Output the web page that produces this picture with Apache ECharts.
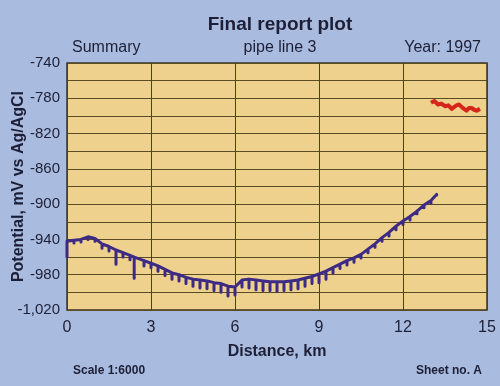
<!DOCTYPE html>
<html><head><meta charset="utf-8">
<script src="https://cdn.jsdelivr.net/npm/echarts@6/dist/echarts.min.js"></script>
<style>html,body{margin:0;padding:0;background:#a9bbdf;}#c{width:500px;height:386px;}</style>
</head><body><div id="c"></div>
<script>
// Distance (km) of survey points on pipe line 3
var distances = [0,0.25,0.5,0.75,1.0,1.25,1.5,1.75,2.0,2.25,2.4,2.75,3.0,3.25,3.5,3.75,4.0,4.25,4.5,4.75,5.0,5.25,5.5,5.75,6.0,6.25,6.5,6.75,7.0,7.25,7.5,7.75,8.0,8.25,8.5,8.75,9.0,9.25,9.5,9.75,10.0,10.25,10.5,10.75,11.0,11.25,11.5,11.75,12.0,12.25,12.5,12.75,13.0,13.2];
// "On" potential (mV) along the line
var potentials = [-942,-941,-940,-937,-939,-945,-948,-952,-955,-958,-960,-964,-967,-970,-974,-978,-980,-983,-985,-986,-987,-989,-990,-993,-994,-986,-985,-986,-987,-988,-988,-988,-987,-986,-984,-982,-979,-976,-972,-968,-964,-961,-957,-951,-945,-938,-932,-925,-919,-914,-908,-901,-896,-889];
// Lowest value of the downward spike at each point (mV)
var spikeLows = [-960,-944,-943,-940,-942,-950,-953,-968,-960,-963,-984,-970,-972,-976,-981,-985,-987,-990,-993,-995,-996,-998,-1000,-1004,-1003,-994,-995,-997,-998,-998,-999,-998,-997,-996,-993,-990,-989,-985,-978,-973,-969,-966,-961,-955,-949,-942,-936,-929,-923,-918,-911,-904,-899,-891];
// Second survey (red)
var redDistances = [13.0,13.12,13.25,13.37,13.5,13.62,13.74,13.82,13.91,14.0,14.1,14.18,14.27,14.36,14.45,14.54,14.63,14.75];
var redPotentials = [-785,-783,-787,-786,-789,-788,-792,-790,-788,-787,-790,-792,-794,-791,-791,-793,-794,-792];
var xTicks = [0,3,6,9,12,15];
var yTickLabels = [-740,-780,-820,-860,-900,-940,-980,-1020];

var blueData = [];
for (var i = 0; i < distances.length; i++) {
  blueData.push([distances[i], potentials[i]]);
  blueData.push([distances[i], spikeLows[i]]);
  blueData.push([distances[i], potentials[i]]);
}
var redData = redDistances.map(function(d, i){ return [d, redPotentials[i]]; });

var txt = '#1d1f36';
var font = 'Liberation Sans, Arial, sans-serif';
var chart = echarts.init(document.getElementById('c'), null, {renderer:'canvas'});
chart.setOption({
  backgroundColor: '#a9bbdf',
  animation: false,
  textStyle: {fontFamily: font},
  title: [
    {text: 'Final report plot', left: 275, top: 10, textAlign: 'center', textStyle: {fontSize: 19, fontWeight: 'bold', color: txt, fontFamily: font}},
    {text: 'Summary', left: 67, top: 35, textStyle: {fontSize: 16, fontWeight: 'normal', color: txt, fontFamily: font}},
    {text: 'pipe line 3', left: 275, top: 35, textAlign: 'center', textStyle: {fontSize: 16, fontWeight: 'normal', color: txt, fontFamily: font}},
    {text: 'Year: 1997', right: 14, top: 35, textStyle: {fontSize: 16, fontWeight: 'normal', color: txt, fontFamily: font}},
    {text: 'Scale 1:6000', left: 68, top: 360, textStyle: {fontSize: 12, fontWeight: 'bold', color: txt, fontFamily: font}},
    {text: 'Sheet no. A', right: 13, top: 360, textStyle: {fontSize: 12, fontWeight: 'bold', color: txt, fontFamily: font}}
  ],
  grid: {left: 67, top: 63, width: 420, height: 247, containLabel: false, outerBoundsMode: 'none',
         show: true, backgroundColor: '#eed18c', borderColor: '#3a3528', borderWidth: 1.5},
  xAxis: {
    type: 'value', min: 0, max: 15, interval: 3,
    name: 'Distance, km', nameLocation: 'middle', nameGap: 34, nameMoveOverlap: false,
    nameTextStyle: {fontSize: 16, fontWeight: 'bold', color: txt, fontFamily: font},
    axisLine: {show: false}, axisTick: {show: false},
    axisLabel: {fontSize: 16, color: txt, margin: 10, fontFamily: font},
    splitLine: {show: true, lineStyle: {color: '#4a4020', width: 1}}
  },
  yAxis: {
    type: 'value', min: -1020, max: -740, interval: 20,
    name: 'Potential, mV vs Ag/AgCl', nameLocation: 'middle', nameGap: 40, nameRotate: 90, nameMoveOverlap: false,
    nameTextStyle: {fontSize: 16, fontWeight: 'bold', color: txt, fontFamily: font},
    axisLine: {show: false}, axisTick: {show: false},
    axisLabel: {fontSize: 15, color: txt, margin: 7, fontFamily: font,
      formatter: function(v){
        var r = Math.round(v);
        return yTickLabels.indexOf(r) >= 0 ? r.toLocaleString('en-US') : '';
      }},
    splitLine: {show: true, lineStyle: {color: '#5a4c22', width: 1}}
  },
  series: [
    {type: 'line', data: blueData, showSymbol: false, symbol: 'none',
     lineStyle: {color: '#3c2a84', width: 3, join: 'round'}, z: 3},
    {type: 'line', data: redData, showSymbol: false, symbol: 'none',
     lineStyle: {color: '#d6261b', width: 4, join: 'round'}, z: 3}
  ]
});
</script></body></html>
